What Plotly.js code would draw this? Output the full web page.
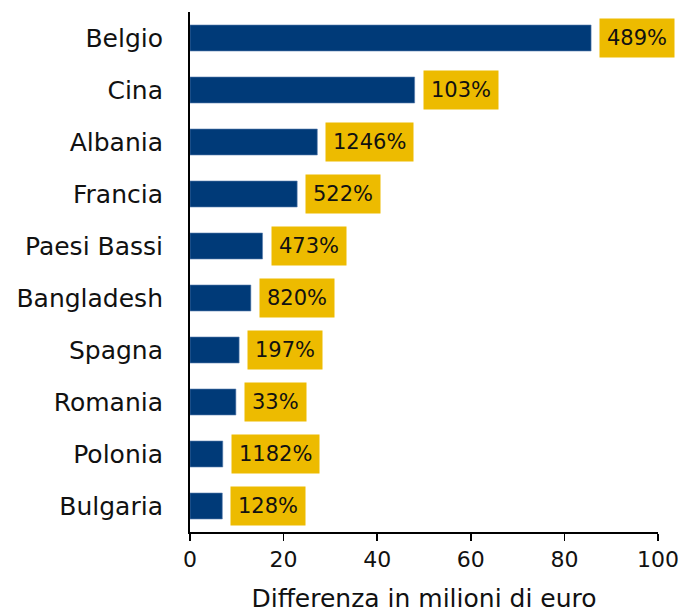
<!DOCTYPE html>
<html><head><meta charset="utf-8">
<script src="https://cdn.plot.ly/plotly-3.0.1.min.js"></script>
<style>html,body{margin:0;padding:0;background:#fff}</style>
</head><body>
<div id="chart" style="width:681px;height:613px"></div>
<script>
const countries = ["Belgio","Cina","Albania","Francia","Paesi Bassi","Bangladesh","Spagna","Romania","Polonia","Bulgaria"];
const diffMillions = [85.7, 48.0, 27.2, 22.9, 15.5, 13.0, 10.5, 9.8, 7.0, 6.9];
const pctLabels = ["489%","103%","1246%","522%","473%","820%","197%","33%","1182%","128%"];

const FONT = "DejaVu Sans, sans-serif";
const annotations = countries.map((c, i) => ({
  x: diffMillions[i], y: c, xref: 'x', yref: 'y',
  text: pctLabels[i], showarrow: false, xanchor: 'left', yanchor: 'middle',
  xshift: 8, bgcolor: '#EDBB00', borderpad: 7,
  font: {family: FONT, size: 21, color: '#111'}
}));

Plotly.newPlot('chart', [{
  type: 'bar', orientation: 'h',
  x: diffMillions, y: countries,
  width: 0.5,
  marker: {color: '#003A78', line: {color: '#5a7fb0', width: 0.6}},
  hoverinfo: 'skip'
}], {
  width: 681, height: 613,
  margin: {l: 190, r: 23, t: 12, b: 81},
  paper_bgcolor: '#fff', plot_bgcolor: '#fff',
  showlegend: false,
  font: {family: FONT, size: 20, color: '#111'},
  xaxis: {
    range: [0, 100], dtick: 20, tick0: 0, showgrid: false, zeroline: false,
    showline: true, linecolor: '#000', linewidth: 1.5,
    ticks: 'outside', ticklen: 7, tickcolor: '#000', tickwidth: 1.5,
    tickfont: {family: FONT, size: 22, color: '#111'},
    title: {text: 'Differenza in milioni di euro', font: {family: FONT, size: 25, color: '#111'}, standoff: 18},
    fixedrange: true
  },
  yaxis: {
    categoryorder: 'array', categoryarray: countries.slice().reverse(),
    autorange: false, range: [-0.5, countries.length - 0.5],
    showgrid: false, zeroline: false,
    showline: true, linecolor: '#000', linewidth: 2,
    ticks: '', ticklabelstandoff: 20,
    tickfont: {family: FONT, size: 25, color: '#111'},
    fixedrange: true
  },
  annotations: annotations
}, {displayModeBar: false, staticPlot: true});
</script>
</body></html>
